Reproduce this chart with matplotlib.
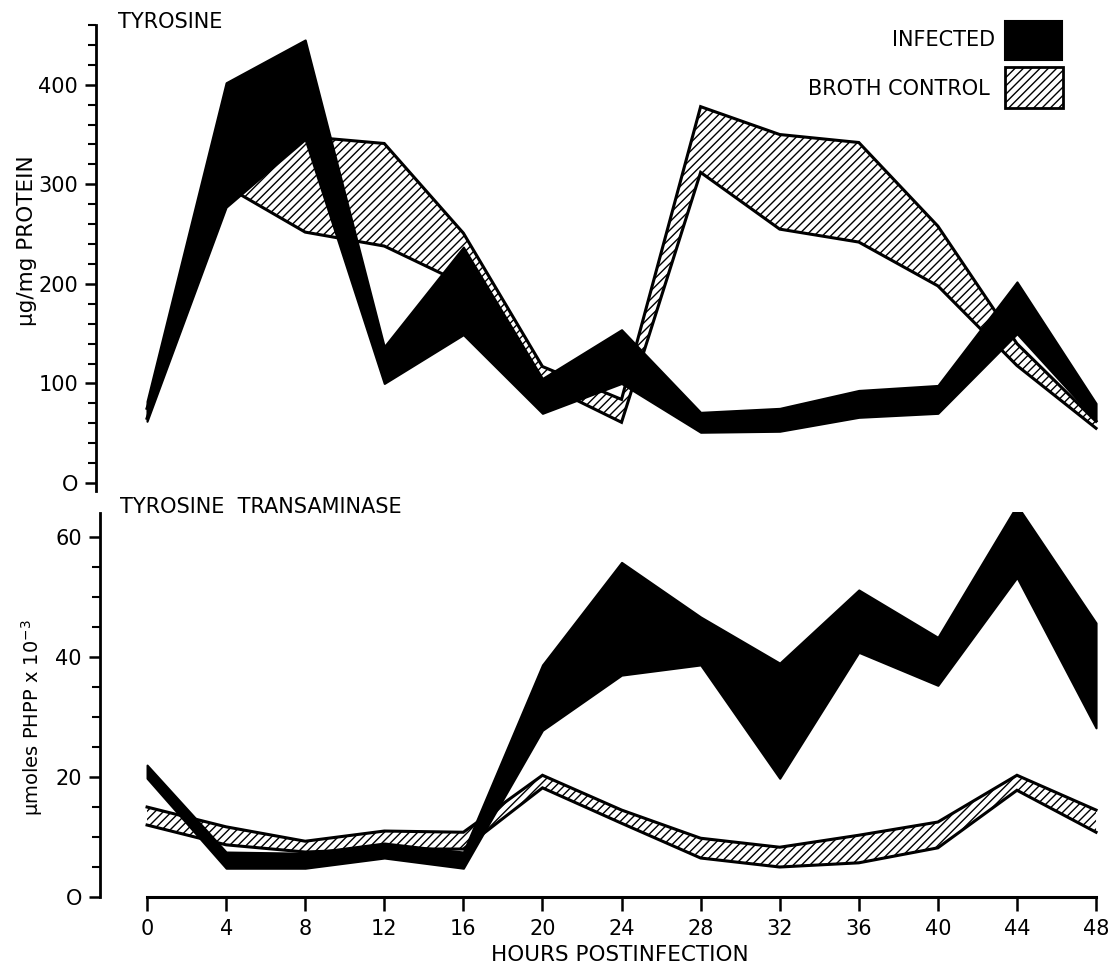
import matplotlib
matplotlib.use("Agg")
import matplotlib.pyplot as plt
from matplotlib.patches import Rectangle
from matplotlib.ticker import MultipleLocator

plt.rcParams['font.family'] = ['DejaVu Sans']
plt.rcParams['hatch.linewidth'] = 1.0

# ---- data ----
hours = [0, 4, 8, 12, 16, 20, 24, 28, 32, 36, 40, 44, 48]
hour_labels = ['0', '4', '8', '12', '16', '20', '24', '28', '32', '36', '40', '44', '48']

# Tyrosine (ug/mg protein) - upper and lower bounds of each band
tyr_inf_hi = [82, 402, 445, 137, 237, 105, 154, 71, 75, 93, 98, 202, 80]
tyr_inf_lo = [62, 277, 345, 100, 149, 70, 100, 51, 52, 66, 70, 150, 63]
tyr_ctl_hi = [75, 305, 348, 341, 251, 117, 84, 378, 350, 342, 258, 140, 62]
tyr_ctl_lo = [65, 298, 252, 238, 200, 100, 61, 312, 255, 242, 198, 118, 55]

# Tyrosine transaminase (umoles PHPP x 10^-3)
tat_inf_hi = [22, 7.5, 7.3, 9.0, 7.5, 38.7, 55.8, 46.7, 39, 51.2, 43.3, 65.3, 45.7]
tat_inf_lo = [19.8, 4.8, 4.8, 6.5, 4.8, 27.8, 37.0, 38.7, 19.8, 40.8, 35.3, 53.3, 28.2]
tat_ctl_hi = [15, 11.7, 9.3, 11, 10.8, 20.3, 14.5, 9.8, 8.3, 10.3, 12.5, 20.3, 14.5]
tat_ctl_lo = [12, 8.7, 7.5, 8, 8, 18.2, 12.3, 6.5, 5.0, 5.7, 8.2, 17.8, 10.8]

W, H = 1114, 973
fig = plt.figure(figsize=(W / 100, H / 100), dpi=100)
fig.patch.set_facecolor('white')

HATCH = '////'


def draw_bands(ax, ctl_hi, ctl_lo, inf_hi, inf_lo):
    ax.fill_between(hours, ctl_lo, ctl_hi, facecolor='white', edgecolor='black',
                    hatch=HATCH, linewidth=0, zorder=2)
    ax.plot(hours, ctl_hi, color='black', lw=2.2, zorder=3, solid_joinstyle='miter')
    ax.plot(hours, ctl_lo, color='black', lw=2.2, zorder=3, solid_joinstyle='miter')
    ax.fill_between(hours, inf_lo, inf_hi, facecolor='black', edgecolor='black',
                    linewidth=1.5, zorder=4)


# ---- top panel ----
ax1 = fig.add_axes([96 / W, 1 - 491 / H, (1100 - 96) / W, (491 - 25) / H])
ax1.set_xlim(-2.58, 48.2)
ax1.set_ylim(-8, 460)
draw_bands(ax1, tyr_ctl_hi, tyr_ctl_lo, tyr_inf_hi, tyr_inf_lo)
for s in ['top', 'right', 'bottom']:
    ax1.spines[s].set_visible(False)
ax1.spines['left'].set_linewidth(2)
ax1.set_xticks([])
ax1.yaxis.set_minor_locator(MultipleLocator(20))
ax1.set_yticks([0, 100, 200, 300, 400])
ax1.set_yticklabels(['O', '100', '200', '300', '400'])
ax1.tick_params(axis='y', which='major', direction='out', length=8, width=1.8,
                labelsize=15, pad=5)
ax1.tick_params(axis='y', which='minor', direction='out', length=6, width=1.5)

# ---- bottom panel ----
ax2 = fig.add_axes([100 / W, 1 - 900 / H, (1100 - 100) / W, (900 - 512) / H])
ax2.set_xlim(-2.38, 48.2)
ax2.set_ylim(-0.5, 64.2)
draw_bands(ax2, tat_ctl_hi, tat_ctl_lo, tat_inf_hi, tat_inf_lo)
for s in ['top', 'right']:
    ax2.spines[s].set_visible(False)
ax2.spines['left'].set_linewidth(2)
ax2.spines['left'].set_bounds(0, 64)
ax2.spines['bottom'].set_position(('data', 0))
ax2.spines['bottom'].set_bounds(0, 48)
ax2.spines['bottom'].set_linewidth(2.2)
ax2.set_xticks(hours)
ax2.set_xticklabels(hour_labels)
ax2.set_yticks([0, 20, 40, 60])
ax2.set_yticklabels(['O', '20', '40', '60'])
ax2.yaxis.set_minor_locator(MultipleLocator(5))
ax2.tick_params(axis='x', which='major', direction='out', length=10, width=1.8,
                labelsize=15, pad=6)
ax2.tick_params(axis='y', which='major', direction='out', length=8, width=1.8,
                labelsize=15, pad=5)
ax2.tick_params(axis='y', which='minor', direction='out', length=6, width=1.5)

# ---- texts ----
fig.text(118 / W, 1 - 22 / H, 'TYROSINE', fontsize=15, ha='left', va='center')
fig.text(120 / W, 1 - 507 / H, 'TYROSINE  TRANSAMINASE', fontsize=15, ha='left', va='center')
fig.text(27 / W, 1 - 241 / H, 'μg/mg PROTEIN', fontsize=15.5, rotation=90,
         ha='center', va='center')
fig.text(32 / W, 1 - 718 / H, 'μmoles PHPP x 10$^{-3}$', fontsize=14, rotation=90,
         ha='center', va='center')
fig.text(620 / W, 1 - 955 / H, 'HOURS POSTINFECTION', fontsize=15.5, ha='center', va='center')

# ---- legend ----
fig.text(995 / W, 1 - 40 / H, 'INFECTED', fontsize=15, ha='right', va='center')
fig.text(990 / W, 1 - 89 / H, 'BROTH CONTROL', fontsize=15, ha='right', va='center')
fig.add_artist(Rectangle((1005 / W, 1 - 60 / H), 57 / W, 39 / H, transform=fig.transFigure,
                         facecolor='black', edgecolor='black', lw=1.5))
fig.add_artist(Rectangle((1005 / W, 1 - 108 / H), 58 / W, 41 / H, transform=fig.transFigure,
                         facecolor='white', edgecolor='black', hatch=HATCH, lw=2))

fig.savefig('out.png', dpi=100, facecolor='white')
